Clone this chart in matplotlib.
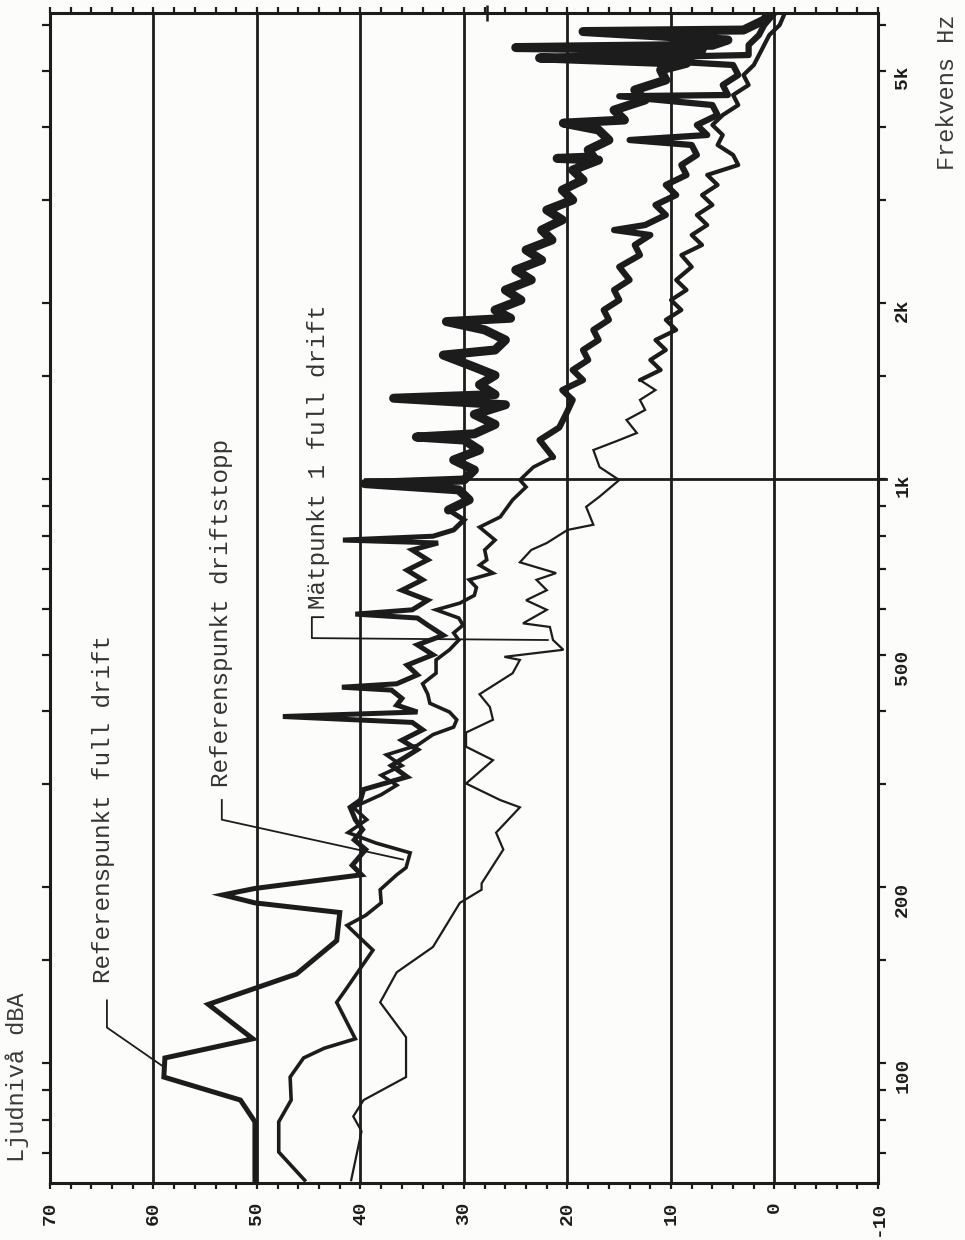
import numpy as np
import matplotlib
matplotlib.use("Agg")
import matplotlib.pyplot as plt
from matplotlib.ticker import FixedLocator, NullFormatter
from matplotlib.transforms import ScaledTranslation

# Referenspunkt full drift (Hz, dBA)
freq_full = [63.0, 79.3, 86.4, 94.6, 102, 110, 126, 142, 162, 181, 188, 194, 199, 210,
             218, 232, 241, 251, 261, 274, 282, 294, 309, 323, 344, 357, 372, 383, 392,
             399, 410, 421, 435, 440, 446, 462, 480, 500, 520, 540, 562, 578, 587, 597,
             620, 645, 672, 698, 727, 756, 777, 786, 798, 818, 851, 885, 921, 958, 982,
             996, 1036, 1078, 1121, 1166, 1180, 1195, 1240, 1290, 1340, 1375, 1395, 1450,
             1505, 1555, 1630, 1663, 1730, 1800, 1860, 1885, 1947, 2025, 2107, 2192, 2280,
             2371, 2467, 2566, 2669, 2777, 2888, 3004, 3125, 3251, 3381, 3517, 3540, 3560,
             3659, 3806, 3959, 4068, 4118, 4283, 4457, 4636, 4822, 5016, 5150, 5260, 5300,
             5427, 5480, 5530, 5646, 5837, 5872, 6109, 6281]
level_full = [50.2, 50.2, 51.6, 59.0, 58.9, 50.4, 54.7, 46.2, 42.3, 42.0, 50.2, 53.3, 50.2, 39.9,
              40.8, 39.5, 40.6, 39.8, 40.5, 41.0, 40.0, 39.7, 35.5, 37.0, 34.5, 36.0, 34.0, 35.0, 47.5,
              34.5, 36.5, 36.0, 37.0, 41.8, 36.5, 34.5, 35.5, 33.0, 34.5, 32.0, 33.5, 34.5, 40.5, 35.0,
              33.5, 36.0, 34.0, 35.5, 33.5, 35.0, 32.5, 41.7, 33.0, 31.0, 30.0, 31.5, 29.5, 30.5, 39.6,
              30.0, 29.0, 31.0, 28.5, 30.0, 34.6, 29.0, 27.0, 29.0, 26.0, 36.8, 27.0, 28.5,
              27.0, 29.0, 32.0, 27.0, 26.0, 28.0, 31.7, 25.5, 27.0, 24.5, 26.0, 23.5, 25.0,
              22.5, 24.0, 21.5, 22.5, 20.5, 22.0, 19.5, 20.5, 18.5, 19.5, 17.0, 21.0, 17.5,
              18.0, 16.0, 17.0, 20.4, 14.5, 15.5, 12.5, 13.5, 10.5, 11.0, 8.5, 22.7, 8.0,
              7.0, 25.0, 6.0, 4.5, 18.5, 3.0, 1.0, 0.5]

# Referenspunkt driftstopp
freq_stopp = [63.0, 70.4, 79.3, 86.4, 94.6, 102, 106, 110, 127, 133, 156, 172, 179, 188, 198,
              210, 216, 229, 238, 248, 261, 274, 288, 299, 311, 323, 337, 350, 365, 376, 387,
              399, 413, 428, 446, 465, 490, 510, 530, 545, 562, 578, 597, 613, 632, 652, 672,
              690, 712, 727, 756, 786, 827, 861, 921, 969, 996, 1048, 1090, 1166, 1225, 1296,
              1366, 1420, 1477, 1537, 1599, 1663, 1730, 1800, 1873, 1947, 2025, 2107, 2192,
              2308, 2418, 2516, 2617, 2669, 2722, 2832, 2946, 3064, 3188, 3316, 3449, 3588,
              3732, 3806, 3882, 4038, 4200, 4369, 4523, 4545, 4728, 4918, 5116, 5260, 5321,
              5535, 5758, 5989, 6281]
level_stopp = [45.4, 47.9, 47.9, 46.7, 46.8, 45.5, 43.5, 40.5, 42.3, 41.5, 38.8, 41.3, 39.5, 38.0, 38.1,
               36.5, 35.6, 35.2, 38.5, 41.2, 39.4, 40.7, 38.0, 36.5, 38.0, 36.0, 37.5, 34.5, 33.0, 31.0, 30.7,
               31.4, 33.3, 33.5, 34.0, 32.7, 32.7, 31.4, 30.5, 31.0, 30.1, 30.5, 32.7, 30.4, 29.0, 28.8, 29.5,
               27.2, 28.5, 27.8, 28.0, 27.0, 28.5, 26.5, 25.3, 24.0, 24.6, 23.3, 21.4, 22.7, 20.8, 20.1,
               19.5, 20.5, 18.5, 19.5, 18.0, 18.5, 17.0, 17.5, 16.0, 16.5, 15.0, 15.5, 14.0,
               15.0, 13.0, 13.5, 12.0, 15.5, 12.5, 10.5, 11.5, 9.5, 10.5, 8.5, 9.0, 7.5,
               8.0, 14.0, 6.5, 7.5, 5.5, 6.0, 15.0, 4.5, 5.0, 3.5, 4.0, 16.0, 2.5,
               2.5, 1.5, 1.0, 0.0]

# Mätpunkt 1 full drift
freq_mp1 = [63.0, 76.4, 81.0, 86.4, 94.6, 110.7, 127, 143, 158, 188, 198, 203, 232, 248, 274,
            282, 301, 330, 348, 368, 387, 407, 428, 465, 490, 496, 510, 530, 558, 566, 597,
            620, 645, 672, 690, 720, 756, 777, 818, 835, 896, 933, 996, 1048, 1121, 1166,
            1199, 1262, 1313, 1366, 1420, 1477, 1537, 1599, 1663, 1730, 1800, 1873, 1947,
            2025, 2107, 2192, 2308, 2418, 2516, 2617, 2722, 2832, 2946, 3064, 3188, 3316,
            3449, 3588, 3732, 3882, 4038, 4200, 4369, 4545, 4728, 4918, 5116, 5321, 5535,
            5758, 5989, 6281]
level_mp1 = [40.9, 39.9, 40.7, 39.7, 35.6, 35.6, 38.1, 36.5, 33.0, 30.4, 28.3, 28.3, 26.2, 26.9, 24.6,
             26.5, 29.8, 27.2, 29.8, 29.8, 27.2, 27.5, 28.5, 25.3, 24.6, 26.1, 20.4, 21.4, 21.7, 24.3, 22.0,
             24.0, 22.0, 23.0, 21.1, 24.6, 23.5, 22.0, 20.0, 17.5, 18.2, 16.9, 15.0, 16.9, 17.5, 15.0,
             13.3, 14.3, 12.5, 13.0, 11.5, 13.0, 11.0, 12.0, 10.5, 11.5, 9.5, 10.5, 9.0,
             10.0, 8.5, 9.5, 8.0, 9.0, 7.0, 8.0, 6.5, 7.5, 6.0, 7.0, 5.5, 6.5,
             3.5, 4.0, 5.5, 5.0, 6.0, 5.0, 3.5, 4.0, 2.5, 3.0, 2.0, 1.5, 1.0,
             0.5, -0.5, -1.0]

level_ticks = [70, 60, 50, 40, 30, 20, 10, 0, -10]
level_grid = [60, 50, 40, 30, 20, 10, 0]
freq_ticks = [100, 200, 500, 1000, 2000, 5000]
freq_labels = ["100", "200", "500", "1k", "2k", "5k"]
freq_minor = [70, 80, 90, 150, 300, 400, 600, 700, 800, 900, 1500, 3000, 4000, 6000]

ink = "#1c1c1c"
mono = ["Liberation Mono", "DejaVu Sans Mono"]


def plot_trace(ax, level, freq, lw, lw_dense, split):
    # the dense high-frequency part of a trace prints as a heavier band
    level = np.asarray(level)
    freq = np.asarray(freq)
    lo = freq <= split
    hi_start = max(np.argmax(freq > split) - 1, 0)
    ax.plot(level[lo], freq[lo], color=ink, lw=lw, solid_joinstyle="miter", zorder=3)
    ax.plot(level[hi_start:], freq[hi_start:], color=ink, lw=lw_dense,
            solid_joinstyle="round", solid_capstyle="round", zorder=3)


fig = plt.figure(figsize=(9.65, 12.4), dpi=100)
fig.patch.set_facecolor("#fcfcfb")
ax = fig.add_axes([50 / 965, 1 - 1183 / 1240, 828 / 965, 1170 / 1240])
ax.set_facecolor("#fcfcfb")

ax.set_xlim(70, -10)
ax.set_yscale("log")
ax.set_ylim(62.3, 6280)

for v in level_grid:
    ax.axvline(v, color=ink, lw=2.0, zorder=1)
# 1 kHz cursor line
ax.plot([39.6, -10.8], [1000, 1000], color=ink, lw=2.0, clip_on=False, zorder=1)

plot_trace(ax, level_mp1, freq_mp1, 1.6, 3.0, 1500)
plot_trace(ax, level_stopp, freq_stopp, 2.6, 4.5, 1100)
plot_trace(ax, level_full, freq_full, 3.6, 6.5, 900)

for s in ax.spines.values():
    s.set_linewidth(2.2)
    s.set_color(ink)

# level axis (bottom), rotated labels
ax.set_xticks(level_ticks)
ax.set_xticks(np.arange(-10, 71, 2), minor=True)
ax.set_xticklabels([str(v) for v in level_ticks], rotation=90, fontsize=14,
                   fontweight="bold", family=mono, color=ink)
ax.tick_params(axis="x", which="both", direction="out", length=4, width=1.6,
               top=True, bottom=True, colors=ink, pad=9)

# frequency axis (right), labels placed by hand
ax.yaxis.set_major_locator(FixedLocator(freq_ticks))
ax.yaxis.set_minor_locator(FixedLocator(freq_minor))
ax.yaxis.set_major_formatter(NullFormatter())
ax.yaxis.set_minor_formatter(NullFormatter())
ax.tick_params(axis="y", which="both", direction="out", length=6, width=1.6,
               left=True, right=True, colors=ink)
shift = ScaledTranslation(0, 5 / 100, fig.dpi_scale_trans)
for f, lab in zip(freq_ticks, freq_labels):
    ax.text(1.030, f, lab, transform=ax.get_yaxis_transform() + shift, rotation=90,
            ha="center", va="top", fontsize=14, fontweight="bold", family=mono, color=ink)

# marker on the top edge
ax.plot([27.8], [6280], marker="+", ms=12, mew=1.8, color=ink, clip_on=False)

# axis titles
fig.text(17 / 965, 1 - 1077 / 1240, "Ljudnivå dBA", rotation=90, ha="center", va="center",
         fontsize=17, family=mono, color="#3a3a3a")
fig.text(948 / 965, 1 - 92 / 1240, "Frekvens Hz", rotation=90, ha="center", va="center",
         fontsize=17, family=mono, color="#3a3a3a")

# curve labels with leaders
labels = [
    ("Referenspunkt full drift", 64.8, 137, [(64.5, 128), (64.5, 115), (59.2, 99)]),
    ("Referenspunkt driftstopp", 53.4, 297, [(53.4, 282), (53.4, 261), (35.9, 223)]),
    ("Mätpunkt 1 full drift", 44.1, 600, [(43.6, 580), (44.7, 580), (44.7, 534), (21.9, 530)]),
]
for text, tx, ty, path in labels:
    ax.text(tx, ty, text, rotation=90, ha="center", va="bottom", fontsize=17.5,
            family=mono, color="#333333", zorder=4)
    px, py = zip(*path)
    ax.plot(px, py, color=ink, lw=1.3, zorder=4)

fig.savefig("out.png", dpi=100, facecolor=fig.get_facecolor())
